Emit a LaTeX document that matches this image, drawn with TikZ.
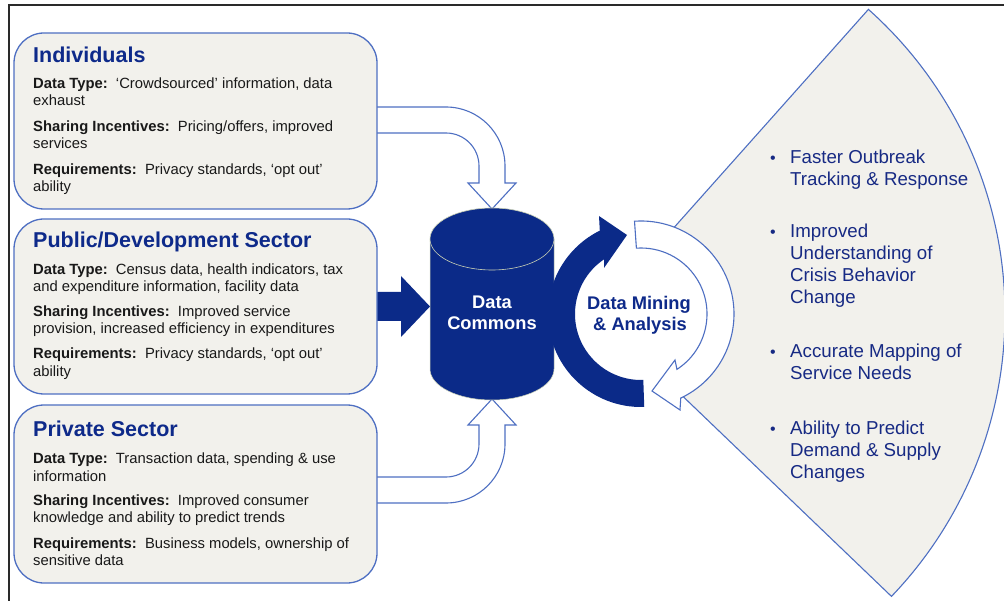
\documentclass[tikz,border=0pt]{standalone}
\usepackage{fontspec}
\setmainfont{Liberation Sans}
\usetikzlibrary{calc}
\definecolor{navy}{HTML}{0B2A88}
\definecolor{titleblue}{HTML}{0E2A8A}
\definecolor{edgeblue}{HTML}{4E6FC2}
\definecolor{boxfill}{HTML}{F2F1EC}
\definecolor{bullettext}{HTML}{172A84}
\definecolor{framegray}{HTML}{2A2A2A}
\definecolor{rimline}{HTML}{C9D0B4}
\begin{document}
\begin{tikzpicture}[x=1pt,y=-1pt,
  srcbox/.style={draw=edgeblue, line width=1.3pt, fill=boxfill, rounded corners=30pt,
    minimum width=363pt, inner sep=0pt},
  titletext/.style={anchor=base west, inner sep=0pt,
    font=\fontsize{21.5}{25}\selectfont\bfseries, text=titleblue},
  bodytext/.style={anchor=base west, inner sep=0pt,
    font=\fontsize{14.8}{17}\selectfont, text=black!90},
  hollow/.style={draw=edgeblue, line width=1.1pt, fill=white, line join=miter},
  solidarrow/.style={fill=navy},
  fan/.style={draw=edgeblue, line width=1.1pt, fill=boxfill},
  bullettxt/.style={anchor=base west, inner sep=0pt,
    font=\fontsize{18.7}{22}\selectfont, text=bullettext},
  bulletdot/.style={anchor=base, inner sep=0pt,
    font=\fontsize{16}{18}\selectfont, text=bullettext},
  centertxt/.style={anchor=base, inner sep=0pt,
    font=\fontsize{18.3}{21}\selectfont\bfseries}
]
\useasboundingbox (0,0) rectangle (1004,601);

% fan (sector) on the right
\begin{scope}
  \clip (0,0) rectangle (1004,601);
  \draw[fan] (597,314) -- ($(597,314)+(-48.3:408)$)
     arc[start angle=-48.3, end angle=43.8, radius=408] -- cycle;
\end{scope}
\fill[white] (641,314) circle[radius=93];

% frame
\draw[framegray, line width=1.5pt] (9,601) -- (9,5) -- (1004,5);

% hollow arrow from top box
\draw[hollow] (370,107) -- (446,107) arc[start angle=-90, end angle=0, radius=59]
  -- (505,183) -- (516,183) -- (492,209) -- (468,183) -- (479,183) -- (479,166)
  arc[start angle=0, end angle=-90, radius=33] -- (370,133) -- cycle;
% hollow arrow from bottom box
\draw[hollow] (370,503) -- (446,503) arc[start angle=90, end angle=0, radius=59]
  -- (505,425) -- (516,425) -- (492,399) -- (468,425) -- (479,425) -- (479,444)
  arc[start angle=0, end angle=90, radius=33] -- (370,477) -- cycle;
% solid arrow from middle box
\fill[solidarrow] (370,292) -- (401,292) -- (401,276) -- (430,306.5) -- (401,337)
  -- (401,321) -- (370,321) -- cycle;

% boxes
\node[srcbox, minimum height=176pt] (ind) at (195.5,121) {};
\node[srcbox, minimum height=175pt] (pub) at (195.5,306.5) {};
\node[srcbox, minimum height=178pt] (priv) at (195.5,494) {};

\node[titletext] (indT) at (33,63) {Individuals};
\foreach \y/\t [count=\i] in {
  89/{\textbf{Data Type:}~~‘Crowdsourced’ information, data},
  106/{exhaust},
  132/{\textbf{Sharing Incentives:}~~Pricing/offers, improved},
  149/{services},
  175/{\textbf{Requirements:}~~Privacy standards, ‘opt out’},
  192/{ability}}
  \node[bodytext] (ind-\i) at (33,\y) {\t};

\node[titletext] (pubT) at (33,248) {Public/Development Sector};
\foreach \y/\t [count=\i] in {
  275/{\textbf{Data Type:}~~Census data, health indicators, tax},
  292/{and expenditure information, facility data},
  317/{\textbf{Sharing Incentives:}~~Improved service},
  334/{provision, increased efficiency in expenditures},
  359/{\textbf{Requirements:}~~Privacy standards, ‘opt out’},
  377/{ability}}
  \node[bodytext] (pub-\i) at (33,\y) {\t};

\node[titletext] (privT) at (33,436) {Private Sector};
\foreach \y/\t [count=\i] in {
  463/{\textbf{Data Type:}~~Transaction data, spending \& use},
  481/{information},
  505/{\textbf{Sharing Incentives:}~~Improved consumer},
  522/{knowledge and ability to predict trends},
  548/{\textbf{Requirements:}~~Business models, ownership of},
  565/{sensitive data}}
  \node[bodytext] (priv-\i) at (33,\y) {\t};

% cylinder (Data Commons)
\fill[navy] (430,239) -- (430,369) arc[start angle=180, end angle=0, x radius=62, y radius=31]
  -- (554,239) -- cycle;
\draw[rimline, line width=0.5pt] (430,239) -- (430,369)
  arc[start angle=180, end angle=0, x radius=62, y radius=31] -- (554,239);
\filldraw[fill=navy, draw=rimline, line width=0.6pt] (492,239) ellipse[x radius=62, y radius=31];
\node[centertxt, text=white] (dc1) at (492,309) {Data};
\node[centertxt, text=white] (dc2) at (492,329.5) {Commons};

% circular arrows
\fill[solidarrow] ($(641,314)+(-272:93)$) arc[start angle=-272, end angle=-116.3, radius=93]
  -- (599,216) -- (627,235) -- (604,268) -- ($(641,314)+(-124:66)$)
  arc[start angle=-124, end angle=-272, radius=66] -- cycle;
\draw[hollow] ($(641,314)+(-94:93)$) arc[start angle=-94, end angle=64.7, radius=93]
  -- (680,410) -- (652,391) -- (675,360) -- ($(641,314)+(57:66)$)
  arc[start angle=57, end angle=-94, radius=66] -- cycle;
\node[centertxt, text=titleblue] (dm1) at (639,310) {Data Mining};
\node[centertxt, text=titleblue] (dm2) at (640,331) {\& Analysis};

% bullets
\foreach \y in {164,238,358,434} \node[bulletdot] at (773,\y) {•};
\foreach \y/\t [count=\i] in {
  164/{Faster Outbreak}, 186/{Tracking \& Response},
  238/{Improved}, 260/{Understanding of}, 282/{Crisis Behavior}, 304/{Change},
  358/{Accurate Mapping of}, 380/{Service Needs},
  434/{Ability to Predict}, 456/{Demand \& Supply}, 478/{Changes}}
  \node[bullettxt] (b-\i) at (790,\y) {\t};
\end{tikzpicture}
\end{document}
